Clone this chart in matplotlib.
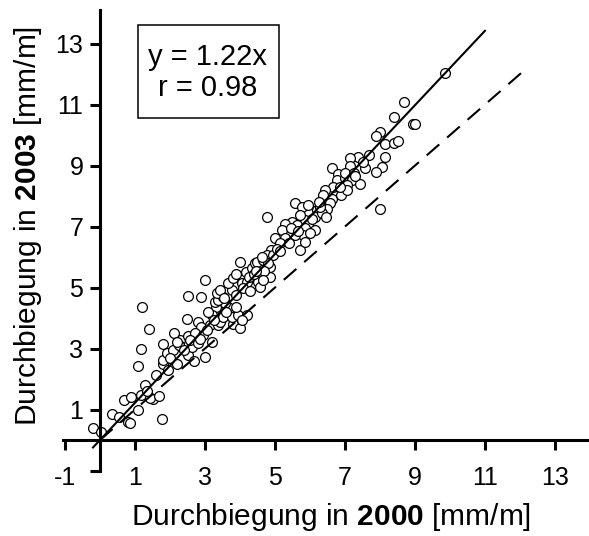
import matplotlib
matplotlib.use("Agg")
import matplotlib.pyplot as plt
from matplotlib.patches import Rectangle

# Schrift: Arial-ähnlich, fette Jahreszahl über mathtext
plt.rcParams['font.family'] = ['Liberation Sans', 'DejaVu Sans']
plt.rcParams['mathtext.fontset'] = 'custom'
plt.rcParams['mathtext.rm'] = 'Liberation Sans'
plt.rcParams['mathtext.bf'] = 'Liberation Sans:bold'

# Durchbiegung 2000 (x) und 2003 (y) in mm/m
x2000 = [-0.21, 0.02, 0.35, 0.80, 0.87, 0.70, 0.89, 1.09, 1.77, 1.16,
         1.28, 1.51, 1.43, 1.70, 1.61, 1.80, 1.81, 1.81, 1.91, 2.09,
         2.21, 2.30, 2.51, 2.49, 2.80, 2.51, 2.70, 3.01, 2.63, 3.20,
         3.13, 3.32, 3.47, 3.80, 1.20, 1.40, 1.16, 1.10, 2.12, 2.25,
         2.00,
         2.90, 2.71, 2.19, 2.57, 2.81, 3.38, 4.00, 3.43, 3.52, 3.76,
         3.19, 3.95, 4.19, 4.05, 3.67, 3.90, 3.57, 3.29, 3.38, 3.52,
         3.33, 3.43, 2.52, 2.90, 3.00, 3.76, 3.90, 3.67, 3.81, 3.90,
         4.05, 4.19, 4.52, 4.57, 4.86, 4.00, 4.17, 4.33, 4.43, 4.48,
         4.86,
         4.78, 5.57, 5.76, 5.95, 6.19, 6.14, 5.86, 5.71, 5.48, 5.29,
         5.62, 5.95, 6.14, 5.86, 5.81, 5.57, 5.33, 5.19, 5.00, 5.29,
         5.14, 4.90, 4.76, 4.95, 4.67, 4.81, 5.71, 4.62, 5.86, 6.62,
         6.81, 6.76, 6.99, 6.67, 6.43, 6.38, 6.62, 6.90, 6.57, 6.48,
         6.33, 6.46,
         9.86, 8.69, 8.40, 8.93, 9.00, 8.00, 7.90, 8.14, 8.41, 8.52,
         7.70, 8.13, 8.05, 7.88, 7.36, 7.14, 7.57, 7.14, 7.00, 7.19,
         7.05, 7.43, 7.52, 7.05, 8.00,
         0.55, 1.35, 1.95, 2.40, 2.95, 3.05, 2.85, 3.25, 3.10, 3.60,
         4.25, 4.40, 4.70, 4.10, 4.30, 4.65, 5.05, 5.40, 6.05, 6.30,
         5.45, 6.00, 6.85, 7.25, 7.30, 3.55, 4.45, 5.15, 5.65, 6.25]
y2003 = [0.40, 0.26, 0.85, 0.60, 0.55, 1.31, 1.42, 0.98, 0.70, 1.47,
         1.80, 1.33, 1.38, 1.45, 2.13, 2.49, 2.62, 3.15, 2.84, 2.95,
         2.49, 3.28, 3.41, 3.96, 3.87, 2.79, 2.60, 2.71, 3.06, 3.21,
         3.77, 4.35, 3.97, 3.82, 4.37, 3.64, 2.97, 2.43, 3.50, 3.10,
         2.70,
         3.72, 3.50, 3.23, 3.28, 3.17, 3.77, 3.66, 3.88, 4.04, 4.04,
         4.10, 4.10, 4.10, 3.93, 4.37, 4.37, 4.48, 4.54, 4.59, 4.70,
         4.81, 4.92, 4.72, 4.70, 5.25, 4.92, 4.75, 5.14, 5.30, 5.46,
         5.14, 5.19, 5.19, 5.03, 5.35, 5.85, 5.52, 5.63, 5.79, 5.85,
         5.68,
         7.32, 7.78, 7.65, 7.70, 7.54, 7.32, 7.21, 7.38, 7.16, 7.10,
         7.05, 7.05, 6.89, 6.94, 6.72, 6.72, 6.78, 6.89, 6.61, 6.61,
         6.45, 6.23, 6.07, 6.07, 5.90, 5.79, 6.23, 6.01, 6.50, 8.91,
         8.74, 8.52, 8.58, 8.31, 8.20, 8.03, 7.92, 8.03, 7.76, 7.59,
         7.43, 7.32,
         12.02, 11.09, 10.59, 10.38, 10.38, 10.11, 9.97, 9.70, 9.75, 9.80,
         9.34, 9.29, 8.96, 8.80, 9.27, 9.24, 8.92, 8.98, 8.75, 8.53,
         8.37, 8.40, 9.13, 8.20, 7.56,
         0.75, 1.60, 2.30, 2.95, 3.45, 3.60, 3.30, 3.95, 4.20, 4.20,
         5.35, 5.45, 5.55, 5.00, 4.90, 5.25, 6.25, 6.45, 7.25, 7.65,
         6.95, 6.80, 8.30, 8.75, 8.65, 4.65, 5.55, 6.20, 6.85, 7.80]

slope = 1.22
fit_x = [-0.2, 11.0]
ref_x = [0.0, 12.05]
ticks = [-1, 1, 3, 5, 7, 9, 11, 13]

fig = plt.figure(figsize=(5.89, 5.36), dpi=100)
ax = fig.add_axes([0.1068, 0.1222, 0.893, 0.859])

ax.scatter(x2000, y2003, s=50, facecolors='white', edgecolors='black',
           linewidths=0.9, zorder=2)
ax.plot(ref_x, ref_x, color='black', lw=1.5, dashes=(8, 5), zorder=3)
ax.plot(fit_x, [slope * v for v in fit_x], color='black', lw=1.5, zorder=3)

ax.set_xlim(-1.06, 13.97)
ax.set_ylim(-1.0, 14.1)
for side in ['top', 'right']:
    ax.spines[side].set_visible(False)
ax.spines['left'].set_position(('data', 0))
ax.spines['bottom'].set_position(('data', 0))
for side in ['left', 'bottom']:
    ax.spines[side].set_linewidth(2.2)

ax.set_xticks(ticks)
ax.set_xticklabels([str(t) for t in ticks])
ax.set_yticks(ticks)
ax.set_yticklabels([''] + [str(t) for t in ticks[1:]])
ax.tick_params(direction='out', length=7, width=2.2, labelsize=18)
ax.tick_params(axis='x', pad=12)
ax.tick_params(axis='y', pad=5)

# Kasten mit Regressionsangaben
fig.patches.append(Rectangle((0.2343, 0.7799), 0.2394, 0.1735,
                             transform=fig.transFigure, fill=False,
                             edgecolor='black', lw=1.1))
fig.text(0.3531, 0.8937, 'y = 1.22x', ha='center', va='center', fontsize=21)
fig.text(0.3531, 0.8358, 'r = 0.98', ha='center', va='center', fontsize=21)

fig.text(0.562, 0.0354, r'Durchbiegung in $\mathbf{2000}$ [mm/m]',
         ha='center', va='center', fontsize=21.5)
fig.text(0.0475, 0.578, r'Durchbiegung in $\mathbf{2003}$ [mm/m]',
         ha='center', va='center', rotation=90, fontsize=21.5)

fig.savefig('out.png', dpi=100)
